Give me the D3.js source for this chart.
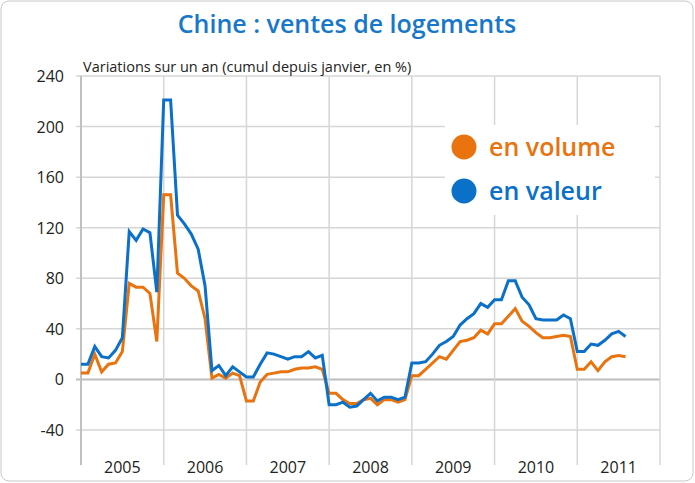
<!DOCTYPE html>
<html><head><meta charset="utf-8">
<script src="https://cdn.jsdelivr.net/npm/d3@7/dist/d3.min.js"></script>
<style>body{margin:0;background:#fff}svg{font-family:"Open Sans",sans-serif}</style>
</head><body><svg id="c" width="695" height="483"></svg>
<script>
const years = ["2005","2006","2007","2008","2009","2010","2011"];
const yTicks = [-40,0,40,80,120,160,200,240];
const valeur = [12,12,26,18,17,23,33,117,110,119,116,69,221,221,130,123,115,103,74,7,11,3,10,6,2,2,12,
 21,20,18,16,18,18,22,17,19,-20,-20,-18,-22,-21,-16,-11,-17,-14,-14,-16,-14,13,13,14,20,27,30,34,43,48,52,60,57,63,63,78,78,65,59,48,47,47,47,51,48,22,22,28,27,31,36,38,34];
const volume = [5,5,20,6,12,13,22,76,73,73,68,30,146,146,84,80,74,70,48,1,4,1,5,3,-17,-17,-2,
 4,5,6,6,8,9,9,10,8,-11,-11,-16,-19,-19,-16,-15,-20,-16,-16,-18,-16,3,3,8,13,18,16,23,30,31,33,39,36,44,44,50,56,46,42,37,33,33,34,35,34,8,8,14,7,14,18,19,18];
const svg = d3.select("#c");
svg.append("rect").attr("x",1).attr("y",1).attr("width",692).attr("height",480).attr("rx",8)
  .attr("fill","#fff").attr("stroke","#c8c8c8");
const x = d3.scaleLinear().domain([0,84]).range([81,660]);
const y = d3.scaleLinear().domain([-40,240]).range([430,76]);
const g = svg.append("g");
yTicks.forEach(t=>{
  g.append("line").attr("x1",76).attr("x2",660).attr("y1",y(t)).attr("y2",y(t))
   .attr("stroke",t===0?"#bdbdbd":"#d6d6d6").attr("stroke-width",t===0?2:1.5);
  g.append("text").attr("x",64).attr("y",y(t)+6).attr("text-anchor","end").attr("font-size",16).attr("fill","#222").text(t);
});
for(let i=0;i<=7;i++){
  g.append("line").attr("x1",x(i*12)).attr("x2",x(i*12)).attr("y1",76).attr("y2",465)
   .attr("stroke",i===0?"#c0c0c0":"#d6d6d6").attr("stroke-width",i===0?2:1.5);
}
years.forEach((yr,i)=>g.append("text").attr("x",x(i*12+6)).attr("y",473).attr("text-anchor","middle")
  .attr("font-size",16).attr("fill","#222").text(yr));
const line = d3.line().x((d,i)=>x(i)).y(d=>y(d));
g.append("path").datum(volume).attr("d",line).attr("fill","none").attr("stroke","#E8730F").attr("stroke-width",3);
g.append("path").datum(valeur).attr("d",line).attr("fill","none").attr("stroke","#0A70C8").attr("stroke-width",3);
svg.append("text").attr("x",347).attr("y",33).attr("text-anchor","middle").attr("font-size",25)
  .attr("font-weight","600").attr("fill","#1777C9").text("Chine : ventes de logements");
svg.append("text").attr("x",83).attr("y",72).attr("font-size",14.5).attr("fill","#222")
  .text("Variations sur un an (cumul depuis janvier, en %)");
const lg=[["en volume","#E8730F",147],["en valeur","#0A70C8",191]];
svg.append("rect").attr("x",445).attr("y",125).attr("width",210).attr("height",90).attr("fill","#fff");
lg.forEach(([t,c,yy])=>{
  svg.append("circle").attr("cx",464).attr("cy",yy).attr("r",12.5).attr("fill",c);
  svg.append("text").attr("x",489).attr("y",yy+9).attr("font-size",25).attr("font-weight","600").attr("fill",c).text(t);
});
</script></body></html>
